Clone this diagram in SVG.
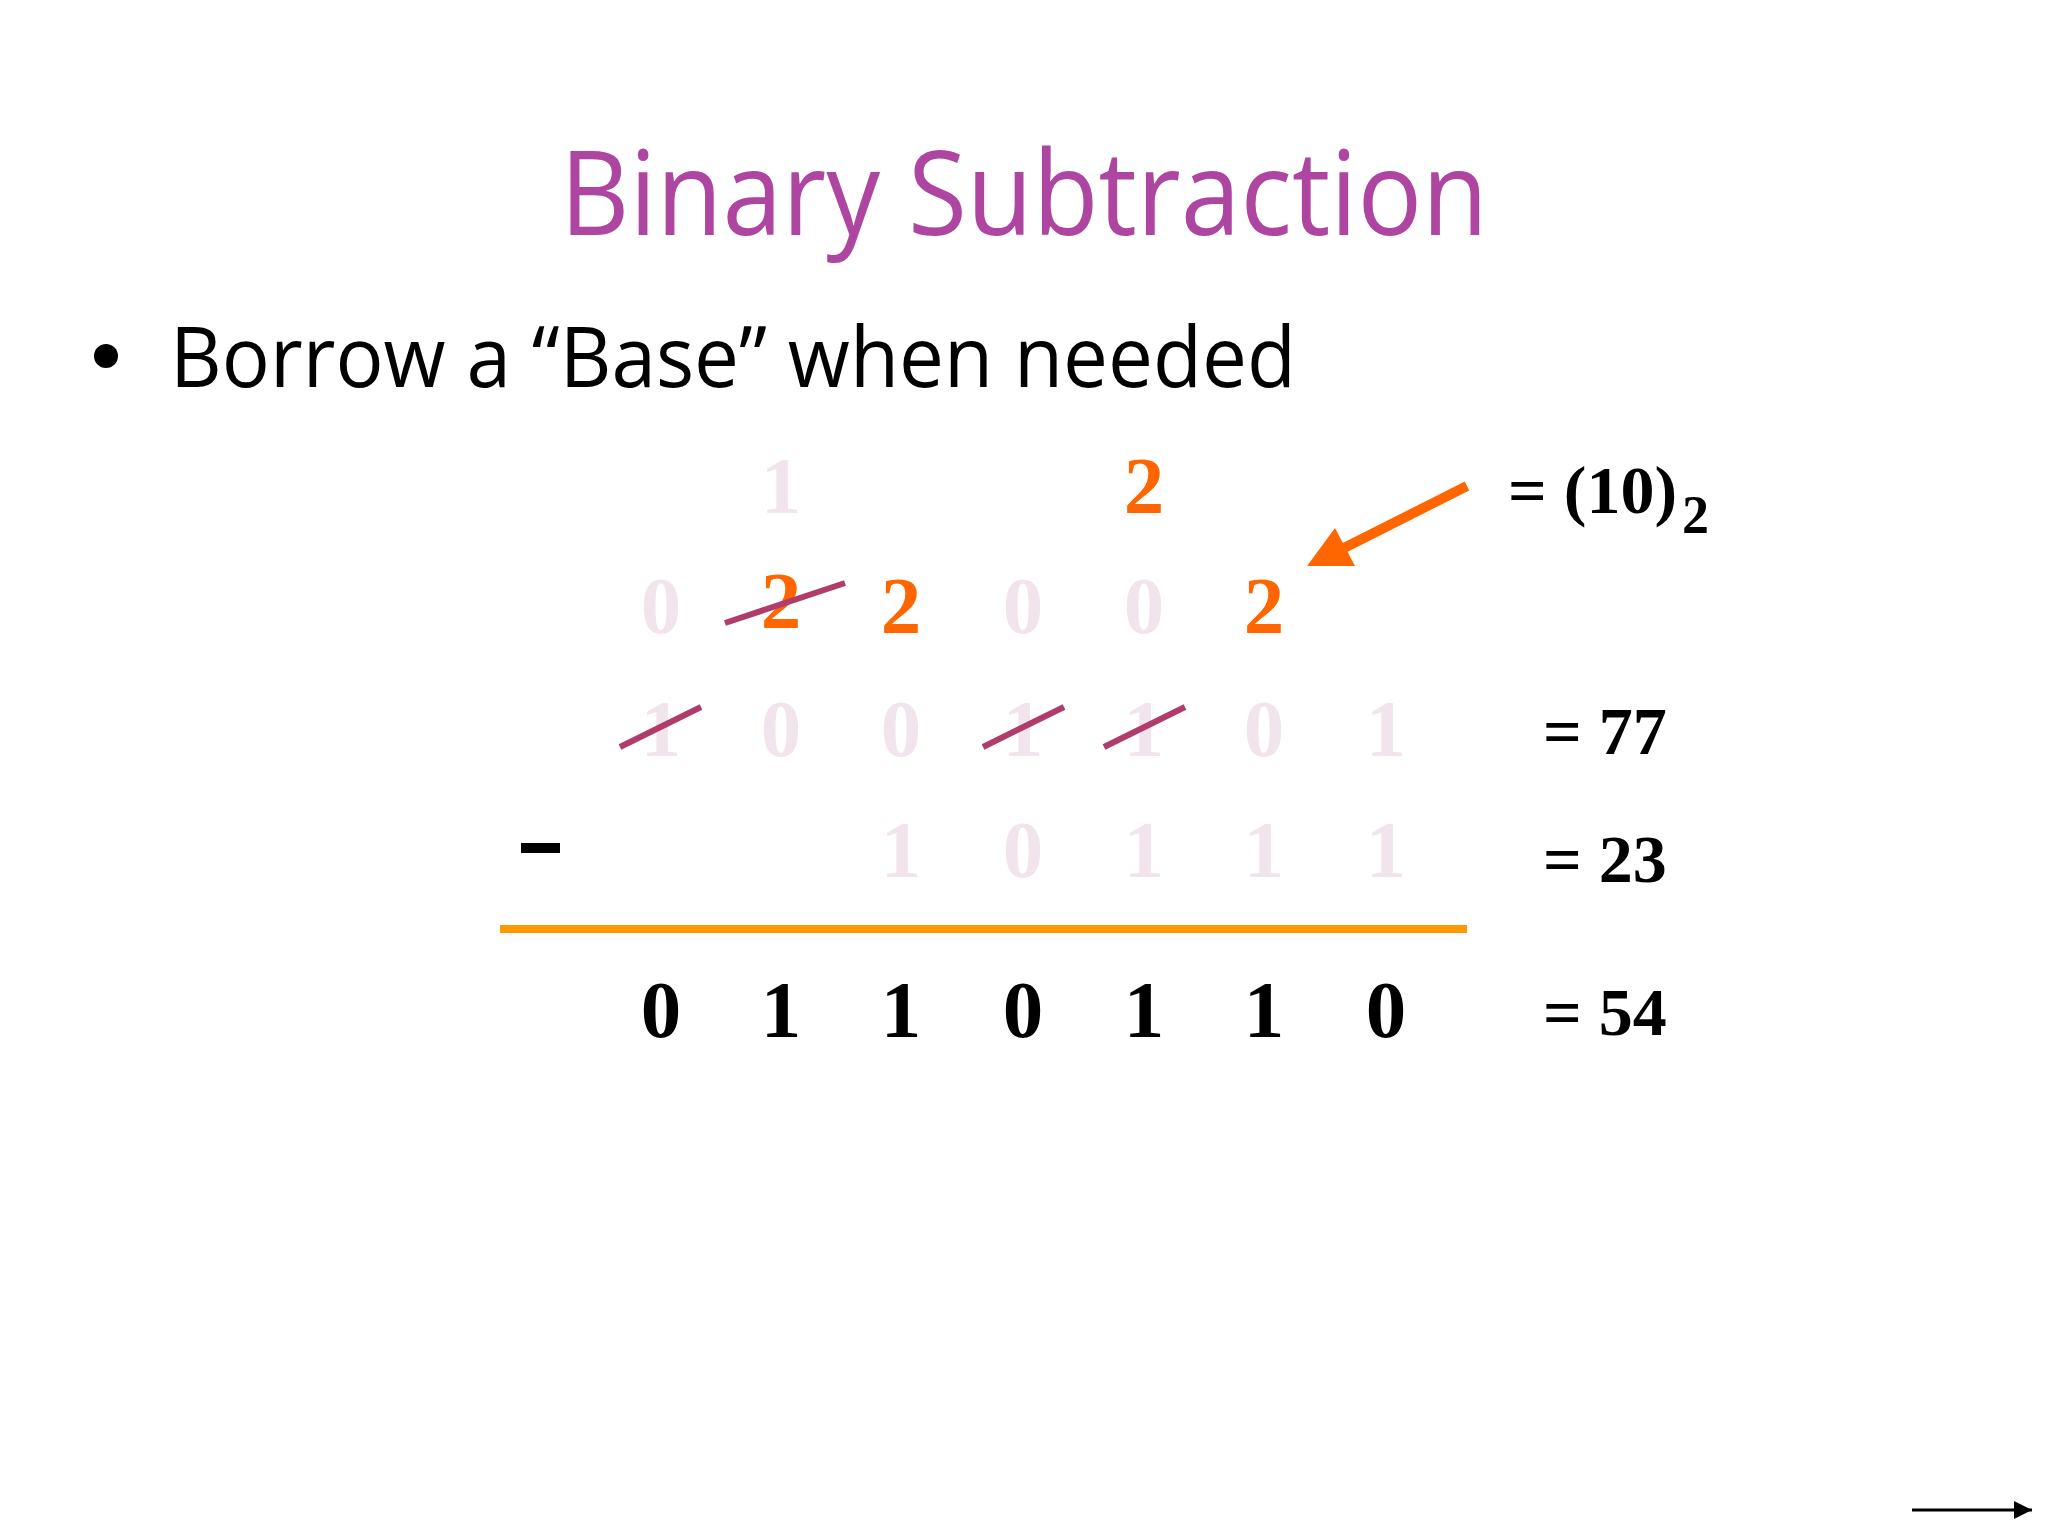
<svg xmlns="http://www.w3.org/2000/svg" width="2048" height="1536" viewBox="0 0 2048 1536">
<defs>
<style>
.title{font-family:"Open Sans","Noto Sans",sans-serif;font-size:118px;fill:#AE45A0}
.bullet{font-family:"Open Sans","Noto Sans",sans-serif;font-size:84px;fill:#000}
.d{font-family:"Liberation Serif","Times New Roman",serif;font-weight:bold;font-size:81px;text-anchor:middle}
.faded{fill:#F2E4EC}
.orange{fill:#FF6600}
.black{fill:#000}
.lbl{font-family:"Liberation Serif","Times New Roman",serif;font-weight:bold;font-size:68px;fill:#000}
.strike{stroke:#B03C6C;stroke-width:6;stroke-linecap:butt}
</style>
<marker id="arrBlack" viewBox="0 0 10 10" refX="10" refY="5" markerWidth="6" markerHeight="6" orient="auto" markerUnits="strokeWidth">
<path d="M0,0 L10,5 L0,10 Z" fill="#000"/>
</marker>
</defs>
<rect width="2048" height="1536" fill="#FFFFFF"/>

<g id="title">
<text class="title" x="560" y="235" textLength="928" lengthAdjust="spacingAndGlyphs">Binary Subtraction</text>
</g>

<g id="bullet-point">
<circle cx="106" cy="356" r="12" fill="#000"/>
<text class="bullet" x="170" y="387" textLength="1126" lengthAdjust="spacingAndGlyphs">Borrow a “Base” when needed</text>
</g>

<g id="row-borrow-top">
<text class="d faded" x="781" y="513">1</text>
<text class="d orange" x="1144" y="513">2</text>
</g>

<g id="row-borrow">
<text class="d faded" x="661" y="633">0</text>
<text class="d orange" x="781" y="628">2</text>
<text class="d orange" x="901" y="633">2</text>
<text class="d faded" x="1023" y="633">0</text>
<text class="d faded" x="1144" y="633">0</text>
<text class="d orange" x="1264" y="633">2</text>
</g>

<g id="row-minuend">
<text class="d faded" x="661" y="756">1</text>
<text class="d faded" x="781" y="756">0</text>
<text class="d faded" x="901" y="756">0</text>
<text class="d faded" x="1023" y="756">1</text>
<text class="d faded" x="1144" y="756">1</text>
<text class="d faded" x="1264" y="756">0</text>
<text class="d faded" x="1386" y="756">1</text>
</g>

<g id="row-subtrahend">
<rect x="521" y="843" width="39" height="10" fill="#000"/>
<text class="d faded" x="901" y="877">1</text>
<text class="d faded" x="1023" y="877">0</text>
<text class="d faded" x="1144" y="877">1</text>
<text class="d faded" x="1264" y="877">1</text>
<text class="d faded" x="1386" y="877">1</text>
</g>

<g id="sum-line">
<rect x="500" y="925" width="967" height="8" fill="#FF9900"/>
</g>

<g id="row-result">
<text class="d black" x="661" y="1037">0</text>
<text class="d black" x="781" y="1037">1</text>
<text class="d black" x="901" y="1037">1</text>
<text class="d black" x="1023" y="1037">0</text>
<text class="d black" x="1144" y="1037">1</text>
<text class="d black" x="1264" y="1037">1</text>
<text class="d black" x="1386" y="1037">0</text>
</g>

<g id="labels">
<text class="lbl" x="1508" y="513" font-size="84">= (10)<tspan font-size="54" dx="5" dy="20">2</tspan></text>
<text class="lbl" x="1543" y="754">= 77</text>
<text class="lbl" x="1543" y="882">= 23</text>
<text class="lbl" x="1543" y="1035">= 54</text>
</g>

<g id="connectors">
<line class="strike" x1="725" y1="623" x2="845" y2="583"/>
<line class="strike" x1="620" y1="747" x2="701" y2="707"/>
<line class="strike" x1="983" y1="747" x2="1064" y2="707"/>
<line class="strike" x1="1104" y1="747" x2="1185" y2="707"/>
<line x1="1467" y1="486" x2="1340" y2="550" stroke="#FF6600" stroke-width="10"/>
<polygon points="1307,566 1335,528 1355,566" fill="#FF6600"/>
<line x1="1912" y1="1510" x2="2032" y2="1510" stroke="#000" stroke-width="3" marker-end="url(#arrBlack)"/>
</g>
</svg>
